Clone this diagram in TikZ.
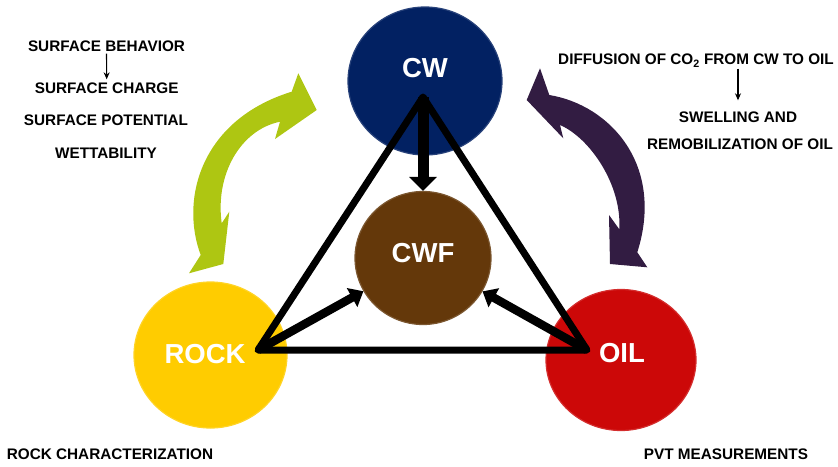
\documentclass[tikz,border=0pt]{standalone}
\usepackage{fontspec}
\setmainfont{Liberation Sans}
\usetikzlibrary{arrows.meta,shapes.geometric}
\definecolor{cwblue}{RGB}{2,33,98}
\definecolor{cwfbrown}{RGB}{100,56,10}
\definecolor{rockyellow}{RGB}{255,204,0}
\definecolor{oilred}{RGB}{204,8,8}
\definecolor{arrgreen}{RGB}{174,198,18}
\definecolor{arrpurple}{RGB}{50,28,66}
\begin{document}
\begin{tikzpicture}[x=1pt,y=-1pt,
  ball/.style={ellipse, inner sep=0pt, draw=#1!85!white, line width=1.2pt, fill=#1},
  balltext/.style={font=\fontsize{27.5}{30}\selectfont\bfseries, text=white},
  lbl/.style={font=\fontsize{15.3}{17}\selectfont\bfseries, inner sep=1pt, text height=11pt, text depth=0pt},
  edgeline/.style={line width=7pt, line join=round, line cap=round},
  bigarrow/.style={line width=11pt, -{Triangle[length=14pt,width=27pt]}},
  midarrow/.style={line width=8.5pt, -{Triangle[length=13pt,width=21pt]}},
  smallarrow/.style={line width=1.1pt, -{Stealth[length=7pt,width=6pt]}}
]
\useasboundingbox (0,0) rectangle (838,466);

% curved arrows
\fill[arrgreen] (291.7,91.7) -- (298.3,73.3) -- (316.7,110) -- (275,139) -- (280,121.7)
  .. controls (240,130) and (215,175) .. (221.7,223.3)
  -- (229.3,211.7) -- (223.3,264) -- (189,273.3) -- (200.7,255)
  .. controls (180,200) and (200,120) .. (291.7,91.7) -- cycle;
\fill[arrpurple] (560,125) -- (563.3,138.3) -- (526.7,100) -- (540,68.3) -- (549.3,95)
  .. controls (610,105) and (665,165) .. (637.3,252.3)
  -- (647.3,267.3) -- (610,264) -- (609,215) -- (619.3,229.3)
  .. controls (622,185) and (590,138) .. (560,125) -- cycle;

% circles
\node[ball=cwblue, minimum width=154pt, minimum height=148pt] (cw) at (425,81) {};
\node[ball=cwfbrown, minimum width=136pt, minimum height=133pt] (cwf) at (423,258) {};
\node[ball=rockyellow, minimum width=153pt, minimum height=146pt] (rock) at (210.5,355) {};
\node[ball=oilred, minimum width=150pt, minimum height=141pt] (oil) at (621,360) {};

% triangle
\coordinate (apex) at (423,97);
\coordinate (bl) at (258,350);
\coordinate (br) at (587,350);
\draw[edgeline] (apex) -- (bl) -- (br) -- cycle;

% arrows to CWF
\draw[bigarrow] (apex) -- (cwf.north);
\draw[midarrow] (bl) -- (cwf);
\draw[midarrow] (br) -- (cwf);

% circle labels
\node[balltext] (cwt) at (425,68) {CW};
\node[balltext] (cwft) at (423,253) {CWF};
\node[balltext] (rockt) at (205,354) {ROCK};
\node[balltext] (oilt) at (622,353) {OIL};

% left texts
\node[lbl] (sb) at (106.5,46) {SURFACE BEHAVIOR};
\node[lbl] (sc) at (106.7,88) {SURFACE CHARGE};
\node[lbl] (sp) at (106,120) {SURFACE POTENTIAL};
\node[lbl] (wt) at (106,153) {WETTABILITY};
\draw[smallarrow, shorten <=1pt, shorten >=2pt] (sb.south) -- (sc.north);

% right texts
\node[lbl] (df) at (696,59) {DIFFUSION OF CO\textsubscript{2} FROM CW TO OIL};
\node[lbl] (sw) at (738,117) {SWELLING AND};
\node[lbl] (rm) at (740,144) {REMOBILIZATION OF OIL};
\draw[smallarrow, shorten <=3pt, shorten >=10pt] (df.south -| sw.north) -- (sw.north);

% bottom texts
\node[lbl] (rc) at (110,454) {ROCK CHARACTERIZATION};
\node[lbl] (pvt) at (726,454) {PVT MEASUREMENTS};
\end{tikzpicture}
\end{document}
